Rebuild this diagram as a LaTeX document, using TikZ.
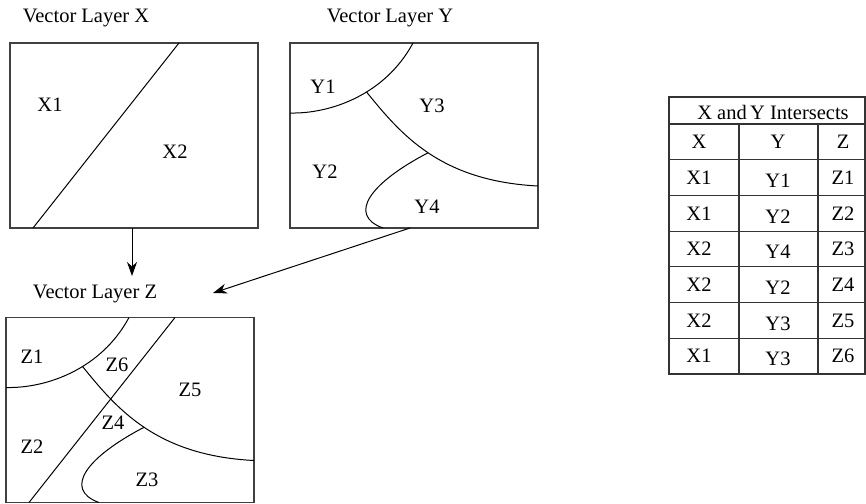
\documentclass[tikz,border=0pt]{standalone}
\usepackage{fontspec}
\setmainfont{Liberation Serif}
\usetikzlibrary{arrows.meta}

\tikzset{
  layerbox/.style={draw=black!75, line width=1.1pt, minimum width=248pt,
    minimum height=185pt, inner sep=0pt, outer sep=0pt},
  boundary/.style={line width=1pt},
  lbl/.style={font=\fontsize{20.5}{24}\selectfont, inner sep=0pt},
  grid line/.style={draw=black!80, line width=1.1pt},
  link/.style={line width=1pt, -{Stealth[length=14pt, width=10pt]}}
}

% frontieres des couches (coordonnees relatives au coin haut gauche)
\newcommand{\xline}{\draw[boundary] (169,0) -- (23,185);}
\newcommand{\ycurves}{%
  \draw[boundary] (0,70) .. controls (40,71) and (95,52) .. (123,0) coordinate[pos=0.58] (jA);
  \draw[boundary] (jA) .. controls (110.5,90.7) and (149.5,138) .. (248,143) coordinate[pos=0.5] (jB);
  \draw[boundary] (jB) .. controls (80,140) and (57,172) .. (93,185);
}

\begin{document}
\begin{tikzpicture}[x=1pt, y=-1pt]

  \useasboundingbox (0,0) rectangle (866,503);

  % ==========================================
  % COUCHE X
  % ==========================================
  \node[lbl, anchor=base] (titleX) at (86,23) {Vector Layer X};
  \node[layerbox] (boxX) at (134,135.5) {};
  \begin{scope}[shift={(boxX.north west)}]
    \xline
  \end{scope}
  \node[lbl] (labX1) at (50,105) {X1};
  \node[lbl] (labX2) at (175,152) {X2};

  % ==========================================
  % COUCHE Y
  % ==========================================
  \node[lbl, anchor=base] (titleY) at (390,23) {Vector Layer Y};
  \node[layerbox] (boxY) at (414,135.5) {};
  \begin{scope}[shift={(boxY.north west)}]
    \ycurves
  \end{scope}
  \node[lbl] (labY1) at (323,87) {Y1};
  \node[lbl] (labY2) at (325,172) {Y2};
  \node[lbl] (labY3) at (432,106) {Y3};
  \node[lbl] (labY4) at (427,207) {Y4};

  % ==========================================
  % COUCHE Z (superposition)
  % ==========================================
  \node[lbl, anchor=base] (titleZ) at (95,298) {Vector Layer Z};
  \node[layerbox] (boxZ) at (130,410) {};
  \begin{scope}[shift={(boxZ.north west)}]
    \xline
    \ycurves
  \end{scope}
  \node[lbl] (labZ1) at (32,357) {Z1};
  \node[lbl] (labZ6) at (117,365) {Z6};
  \node[lbl] (labZ5) at (190,390) {Z5};
  \node[lbl] (labZ4) at (113,423) {Z4};
  \node[lbl] (labZ2) at (32,447) {Z2};
  \node[lbl] (labZ3) at (147,480) {Z3};

  % Fleches vers Z
  \coordinate (tipX) at (132,276);
  \coordinate (tipY) at (213,293);
  \coordinate (outY) at (410,0);
  \draw[link] (boxX.south -| tipX) -- (tipX);
  \draw[link] (boxY.south -| outY) -- (tipY);

  % ==========================================
  % TABLE D'INTERSECTION
  % ==========================================
  \draw[grid line] (669,97) rectangle (865,374);
  \draw[grid line] (669,124) -- (865,124);
  \foreach \k in {1,...,6}
    \draw[grid line] (669,124+35.7*\k) -- (865,124+35.7*\k);
  \draw[grid line] (739,124) -- (739,374);
  \draw[grid line] (818,124) -- (818,374);

  \node[lbl] (head) at (773,112) {X and\,Y Intersects};
  \foreach \a/\b/\c [count=\r from 0] in {X/Y/Z, X1/Y1/Z1, X1/Y2/Z2, X2/Y4/Z3, X2/Y2/Z4, X2/Y3/Z5, X1/Y3/Z6} {
    \pgfmathsetmacro{\ya}{142+35.7*\r}
    \pgfmathsetmacro{\yb}{\r>0 ? \ya+3 : \ya}
    \node[lbl] (cellA\r) at (699,\ya) {\a};
    \node[lbl] (cellB\r) at (778,\yb) {\b};
    \node[lbl] (cellC\r) at (843,\ya) {\c};
  }

\end{tikzpicture}
\end{document}
